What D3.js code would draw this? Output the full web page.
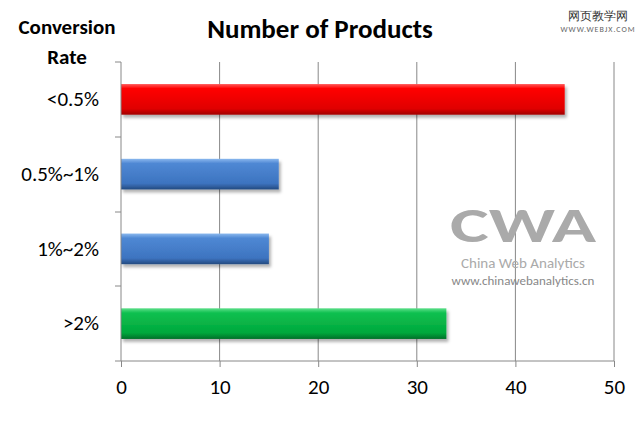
<!doctype html>
<html>
<meta charset="utf-8" />
<title>Number of Products</title>
<script src="https://cdn.jsdelivr.net/npm/d3@7"></script>
<style>
  body { margin: 0; background: #fff; }
  text { font-family: Calibri, Carlito, Lato, sans-serif; }
</style>
<body>
<script>
const categories = ['<0.5%', '0.5%~1%', '1%~2%', '>2%'];
const values = [45, 16, 15, 33];
const colors = ['red', 'blue', 'blue', 'green'];
const ticks = [0, 10, 20, 30, 40, 50];

const W = 642, H = 429;
const svg = d3.select('body').append('svg').attr('width', W).attr('height', H);

const x = d3.scaleLinear().domain([0, 50]).range([121, 614]);
const y = d3.scaleBand().domain(categories).range([62, 361]).paddingInner(0.59).paddingOuter(0.295);

const defs = svg.append('defs');
const palette = {
  red:   ['#ff5a5a', '#ff0000', '#e00000', '#a00000'],
  blue:  ['#8ab8ee', '#4f88d4', '#3d74c0', '#244a80'],
  green: ['#5ee08a', '#10c050', '#00a83c', '#007028']
};
Object.entries(palette).forEach(([k, c]) => {
  const g = defs.append('linearGradient').attr('id', 'g-' + k).attr('x1', 0).attr('y1', 0).attr('x2', 0).attr('y2', 1);
  [[0, c[0]], [0.15, c[1]], [0.8, c[2]], [1, c[3]]].forEach(([o, col]) =>
    g.append('stop').attr('offset', o).attr('stop-color', col));
});
const f = defs.append('filter').attr('id', 'sh').attr('x', '-5%').attr('y', '-20%').attr('width', '115%').attr('height', '160%');
f.append('feDropShadow').attr('dx', 2).attr('dy', 3).attr('stdDeviation', 1.5).attr('flood-color', '#000').attr('flood-opacity', 0.3);

// grid
svg.append('g').selectAll('line').data(ticks.slice(1)).join('line')
  .attr('x1', d => x(d)).attr('x2', d => x(d)).attr('y1', 62).attr('y2', 361)
  .attr('stroke', '#888').attr('stroke-width', 1);

// watermark
const wm = svg.append('g').attr('fill', '#aaa');
wm.append('text').attr('x', 523).attr('y', 242).attr('text-anchor', 'middle')
  .attr('font-size', 48).attr('font-weight', 'bold').attr('font-family', '"DejaVu Sans", sans-serif')
  .attr('textLength', 146).attr('lengthAdjust', 'spacingAndGlyphs').text('CWA');
wm.append('text').attr('x', 523).attr('y', 268).attr('text-anchor', 'middle').attr('font-size', 15).text('China Web Analytics');
wm.append('text').attr('x', 523).attr('y', 285).attr('text-anchor', 'middle').attr('font-size', 13).attr('fill', '#888').text('www.chinawebanalytics.cn');

// bars
svg.append('g').selectAll('rect').data(values).join('rect')
  .attr('x', x(0)).attr('y', (d, i) => y(categories[i]))
  .attr('width', d => x(d) - x(0)).attr('height', y.bandwidth())
  .attr('fill', (d, i) => `url(#g-${colors[i]})`).attr('filter', 'url(#sh)');

// axes
const xa = svg.append('g').attr('transform', 'translate(0,361)')
  .call(d3.axisBottom(x).tickValues(ticks).tickSize(6).tickPadding(12));
xa.select('.domain').remove();
xa.append('line').attr('x1', 121).attr('x2', 614).attr('stroke', '#888');
xa.selectAll('.tick line').attr('stroke', '#888');
xa.selectAll('text').attr('font-size', 21).attr('fill', '#000').attr('font-family', 'Calibri, Carlito, Lato, sans-serif');

const ya = svg.append('g').attr('transform', 'translate(121,0)')
  .call(d3.axisLeft(y).tickSize(0).tickPadding(22));
ya.select('.domain').remove();
ya.append('line').attr('y1', 62).attr('y2', 361).attr('stroke', '#888');
ya.selectAll('.tick text').attr('font-size', 21).attr('fill', '#000').attr('font-family', 'Calibri, Carlito, Lato, sans-serif');
ya.selectAll('line.sep').data([62, 137, 212, 286, 361]).join('line').attr('class', 'sep')
  .attr('x1', -6).attr('x2', 0).attr('y1', d => d).attr('y2', d => d).attr('stroke', '#888');

// titles
svg.append('text').attr('x', 320).attr('y', 38).attr('text-anchor', 'middle')
  .attr('font-size', 27).attr('font-weight', 'bold').text('Number of Products');
svg.append('text').attr('x', 67).attr('y', 34).attr('text-anchor', 'middle')
  .attr('font-size', 21).attr('font-weight', 'bold').text('Conversion');
svg.append('text').attr('x', 67).attr('y', 64).attr('text-anchor', 'middle')
  .attr('font-size', 21).attr('font-weight', 'bold').text('Rate');

// corner watermark
svg.append('text').attr('x', 598).attr('y', 20).attr('text-anchor', 'middle').attr('font-size', 12)
  .attr('font-family', '"Noto Sans CJK SC", sans-serif').attr('fill', '#333').text('网页教学网');
svg.append('text').attr('x', 598).attr('y', 32).attr('text-anchor', 'middle').attr('font-size', 8)
  .attr('fill', '#666').attr('letter-spacing', 1).text('WWW.WEBJX.COM');
</script>
</body>
</html>
